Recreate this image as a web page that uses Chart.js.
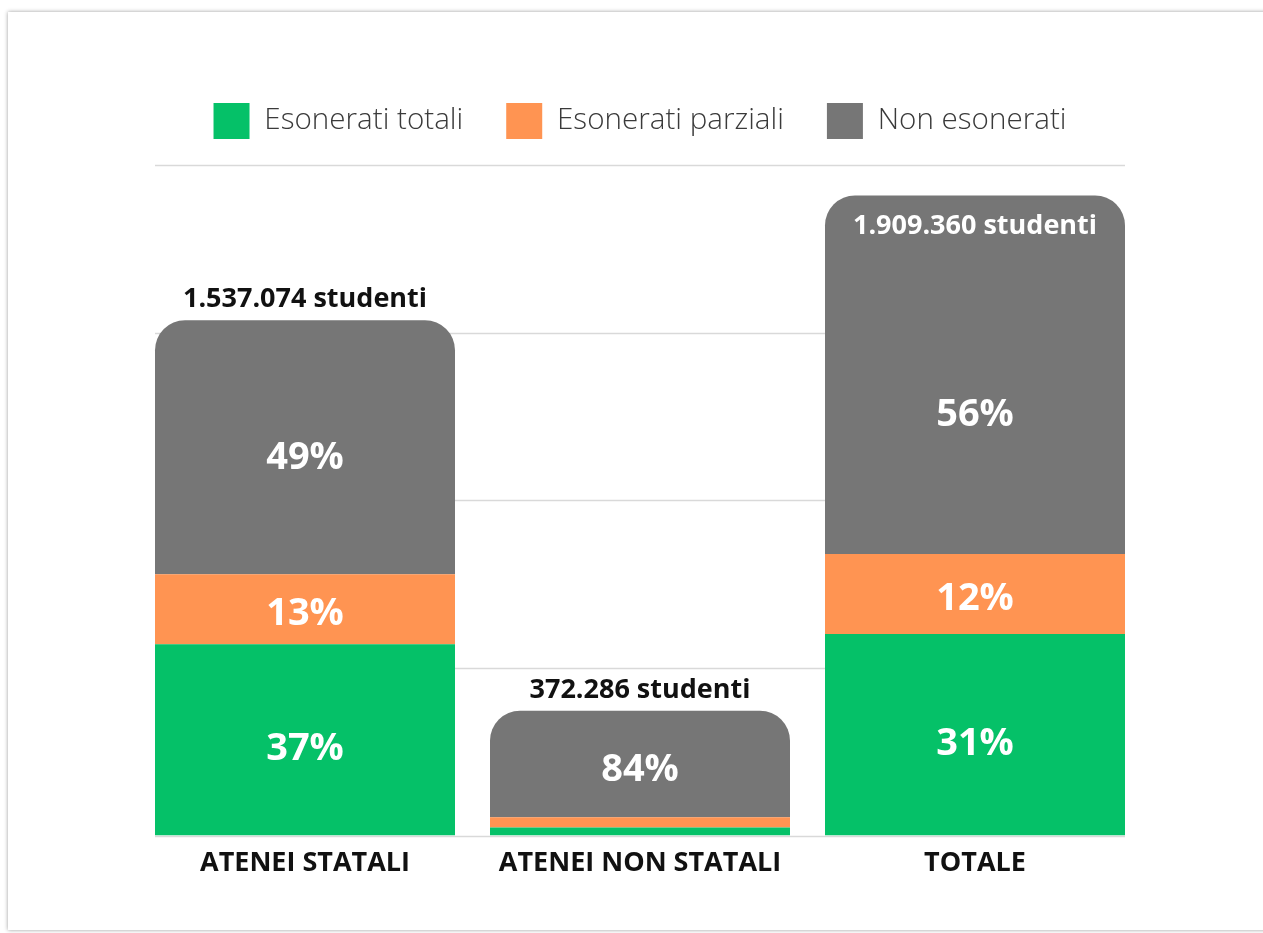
<!DOCTYPE html>
<html lang="it">
<head>
<meta charset="utf-8">
<title>Esonerati</title>
<script src="https://cdn.jsdelivr.net/npm/chart.js@4.4.1/dist/chart.umd.min.js"></script>
<style>
  html, body { margin: 0; padding: 0; background: #fff; overflow: hidden; }
  #card {
    position: absolute; left: 8px; top: 12px; width: 1300px; height: 918px;
    background: #fff; box-shadow: 0 0 4px rgba(0,0,0,0.4);
  }
  #chart { position: absolute; left: 0; top: 0; }
</style>
</head>
<body>
<div id="card"></div>
<canvas id="chart" width="1263" height="933"></canvas>
<script>
// categorie e serie (numero di studenti)
const categories = ['ATENEI STATALI', 'ATENEI NON STATALI', 'TOTALE'];
const esoneratiTotali = [571000, 24000, 601000];
const esoneratiParziali = [208500, 31000, 238500];
const nonEsonerati = [757574, 317286, 1069860];

// etichette percentuali
const pctTotali = ['37%', '', '31%'];
const pctParziali = ['13%', '', '12%'];
const pctNon = ['49%', '84%', '56%'];

// valori delle linee di griglia
const yTicks = [0, 500000, 1000000, 1500000, 2000000];

const FONT = "'Open Sans', 'Noto Sans', sans-serif";

function formatIt(n) {
  return String(n).replace(/\B(?=(\d{3})+(?!\d))/g, '.');
}

// griglia orizzontale solo tra il primo e l'ultimo bar
const gridPlugin = {
  id: 'gridLines',
  beforeDatasetsDraw(chart) {
    const ctx = chart.ctx;
    const y = chart.scales.y;
    const bars = chart.getDatasetMeta(0).data;
    const first = bars[0], last = bars[bars.length - 1];
    const x0 = first.x - first.width / 2;
    const x1 = last.x + last.width / 2;
    ctx.save();
    ctx.strokeStyle = '#d9d9d9';
    ctx.lineWidth = 1.5;
    yTicks.forEach(v => {
      const py = Math.round(y.getPixelForValue(v)) + 0.5;
      ctx.beginPath();
      ctx.moveTo(x0, py);
      ctx.lineTo(x1, py);
      ctx.stroke();
    });
    ctx.restore();
  }
};

// percentuali dentro i segmenti e totale sopra la colonna
const labelPlugin = {
  id: 'barLabels',
  afterDatasetsDraw(chart) {
    const ctx = chart.ctx;
    const pcts = [pctTotali, pctParziali, pctNon];
    const topMeta = chart.getDatasetMeta(2);
    const inside = [];
    ctx.save();
    ctx.textAlign = 'center';

    // totali
    ctx.font = 'bold 27px ' + FONT;
    ctx.textBaseline = 'alphabetic';
    topMeta.data.forEach((bar, j) => {
      const total = esoneratiTotali[j] + esoneratiParziali[j] + nonEsonerati[j];
      const text = formatIt(total) + ' studenti';
      if (bar.y - 40 < chart.chartArea.top) {
        inside[j] = true;
        ctx.fillStyle = '#ffffff';
        ctx.fillText(text, bar.x, bar.y + 39);
      } else {
        ctx.fillStyle = '#111111';
        ctx.fillText(text, bar.x, bar.y - 13);
      }
    });

    // percentuali
    ctx.font = 'bold 38px ' + FONT;
    ctx.textBaseline = 'middle';
    ctx.fillStyle = '#ffffff';
    pcts.forEach((arr, i) => {
      chart.getDatasetMeta(i).data.forEach((bar, j) => {
        if (!arr[j]) return;
        const h = bar.base - bar.y;
        let cy = (bar.y + bar.base) / 2 + 0.035 * h + 2.5;
        if (i === 2 && inside[j]) cy += 25;
        ctx.fillText(arr[j], bar.x, cy);
      });
    });
    ctx.restore();
  }
};

// spazio extra sotto la legenda
const legendSpace = {
  id: 'legendSpace',
  beforeInit(chart) {
    const origFit = chart.legend.fit;
    chart.legend.fit = function () {
      origFit.bind(chart.legend)();
      this.height += 16;
    };
  }
};

const common = { barPercentage: 0.8955, categoryPercentage: 1, borderWidth: 0 };

new Chart(document.getElementById('chart'), {
  type: 'bar',
  data: {
    labels: categories,
    datasets: [
      Object.assign({ label: 'Esonerati totali', data: esoneratiTotali, backgroundColor: '#05c168' }, common),
      Object.assign({ label: 'Esonerati parziali', data: esoneratiParziali, backgroundColor: '#ff9452' }, common),
      Object.assign({
        label: 'Non esonerati', data: nonEsonerati, backgroundColor: '#767676',
        borderRadius: { topLeft: 30, topRight: 30, bottomLeft: 0, bottomRight: 0 },
        borderSkipped: false
      }, common)
    ]
  },
  options: {
    responsive: false,
    animation: false,
    devicePixelRatio: 1,
    layout: { padding: { left: 137.5, right: 120.5, top: 60, bottom: 41 } },
    scales: {
      x: {
        stacked: true,
        grid: { display: false, drawTicks: false },
        border: { display: false },
        ticks: { color: '#111111', padding: 12, font: { family: FONT, size: 27, weight: 'bold' } }
      },
      y: { stacked: true, display: false, min: 0, max: 2000000 }
    },
    plugins: {
      legend: {
        position: 'top',
        labels: {
          boxWidth: 36, boxHeight: 36, padding: 43, color: '#3a3a3a',
          font: { family: FONT, size: 29.6, weight: '300' }
        }
      },
      tooltip: { enabled: false }
    }
  },
  plugins: [gridPlugin, labelPlugin, legendSpace]
});
</script>
</body>
</html>
